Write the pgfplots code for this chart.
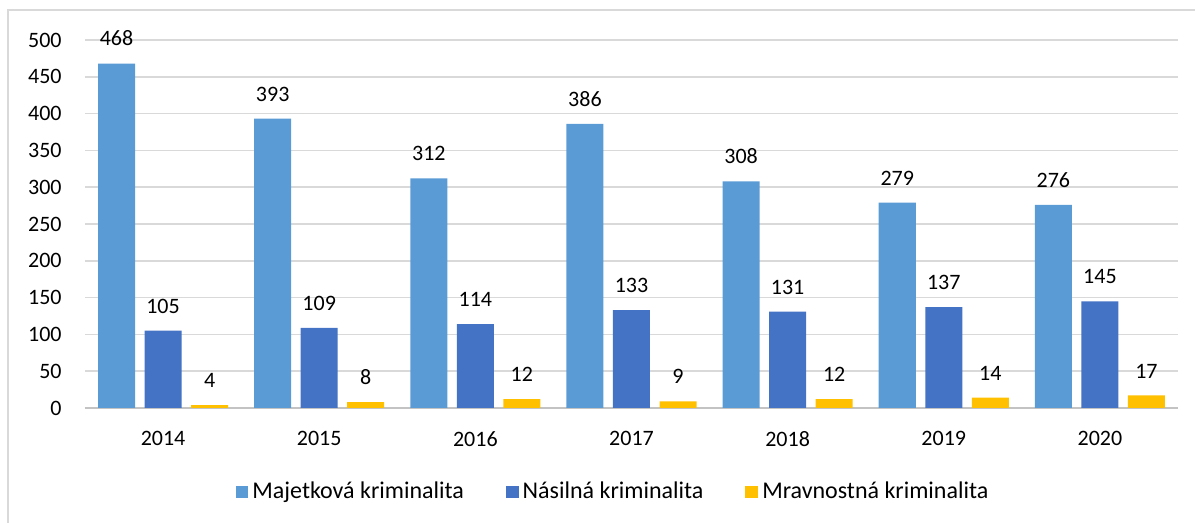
\documentclass[border=0pt]{standalone}
\usepackage{pgfplots}
\pgfplotsset{compat=1.18}
\usepackage{fontspec}
\setmainfont{Carlito}
\definecolor{cA}{HTML}{5B9BD5}
\definecolor{cB}{HTML}{4472C4}
\definecolor{cC}{HTML}{FFC000}
\definecolor{gridc}{HTML}{D9D9D9}
\pgfplotsset{sqlegend/.style={legend image code/.code={\fill[##1] (0pt,-3.2pt) rectangle (6.4pt,3.2pt);}}}
\begin{document}
\begin{tikzpicture}
\useasboundingbox (0,0) rectangle (597.5pt,261.5pt);
\draw[gridc, line width=0.6pt] (4pt,0) -- (4pt,256.5pt) -- (597.5pt,256.5pt);
\begin{axis}[
  at={(42.5pt,57.5pt)}, anchor=south west,
  scale only axis, width=546.5pt, height=184pt,
  xmin=-0.5, xmax=6.5, ymin=0, ymax=500,
  ytick={0,50,...,500},
  xtick={0,...,6},
  xticklabels={2014,2015,2016,2017,2018,2019,2020},
  major tick length=0pt,
  axis line style={draw=none},
  axis x line*=bottom, axis y line*=left,
  xmajorgrids=false, ymajorgrids=true,
  y grid style={gridc, line width=0.8pt},
  font=\fontsize{11}{13}\selectfont,
  tick label style={font=\fontsize{11}{13}\selectfont, text=black},
  yticklabel style={anchor=east, inner sep=0pt, xshift=-11.5pt},
  xticklabel style={anchor=north, inner sep=0pt, yshift=-11.5pt},
  /pgf/number format/assume math mode=true,
  ybar, bar width=0.237,
  nodes near coords,
  every node near coord/.append style={font=\fontsize{11}{13}\selectfont, inner sep=0pt, yshift=8.5pt, text=black},
  legend style={at={(264.5pt,-42pt)}, anchor=center, draw=none, fill=none,
    legend columns=-1, font=\fontsize{12}{14}\selectfont,
    /tikz/every even column/.append style={column sep=19pt},
    /tikz/every odd column/.append style={column sep=0pt},
    inner sep=0pt},
  legend cell align=left,
  clip=false,
]
\draw[draw=gridc!90!black, line width=0.8pt] (axis cs:-0.5,0) -- (axis cs:6.5,0);
\addplot[fill=cA, draw=none, bar shift=-0.298, sqlegend] coordinates {(0,468) (1,393) (2,312) (3,386) (4,308) (5,279) (6,276)};
\addlegendentry{Majetková kriminalita}
\addplot[fill=cB, draw=none, bar shift=0, sqlegend] coordinates {(0,105) (1,109) (2,114) (3,133) (4,131) (5,137) (6,145)};
\addlegendentry{Násilná kriminalita}
\addplot[fill=cC, draw=none, bar shift=0.298, sqlegend] coordinates {(0,4) (1,8) (2,12) (3,9) (4,12) (5,14) (6,17)};
\addlegendentry{Mravnostná kriminalita}
\end{axis}
\end{tikzpicture}
\end{document}
